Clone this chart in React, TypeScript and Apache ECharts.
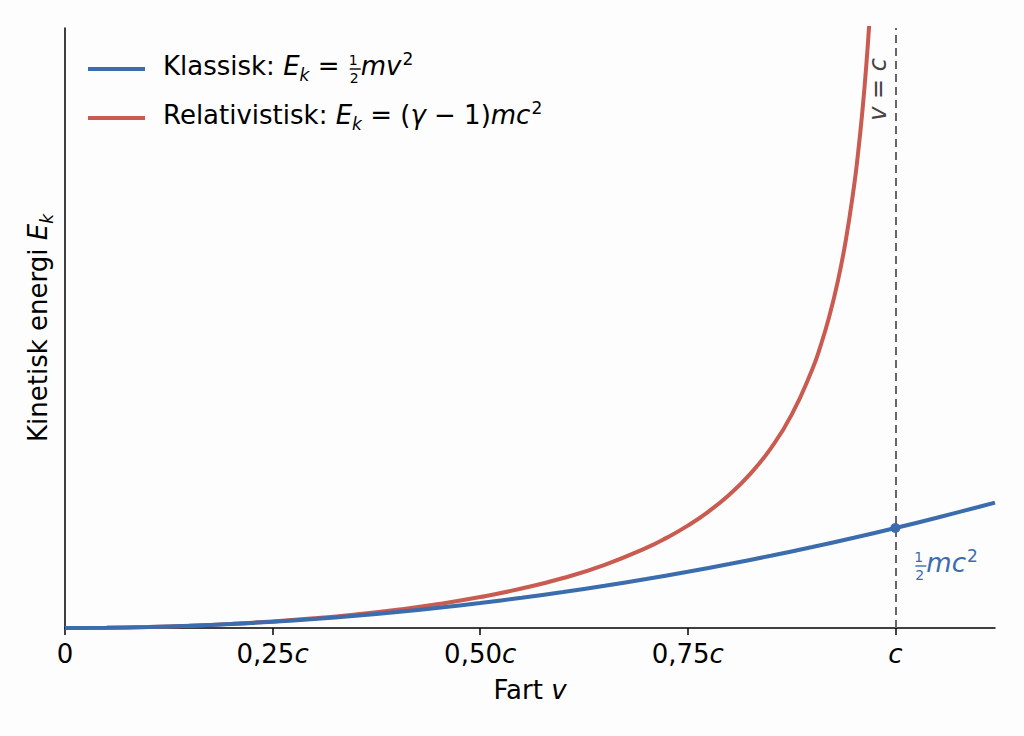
import React, { useEffect, useRef } from 'react'
import * as echarts from 'echarts'

// speeds as fraction of c, energies in units of mc^2
const classicSpeeds = [0, 0.05, 0.1, 0.15, 0.2, 0.25, 0.3, 0.35, 0.4, 0.45, 0.5, 0.55, 0.6, 0.65, 0.7, 0.75, 0.8, 0.85, 0.9, 0.95, 1.0, 1.05, 1.1, 1.12]
const classicEnergy = [0, 0.00125, 0.005, 0.01125, 0.02, 0.03125, 0.045, 0.06125, 0.08, 0.10125, 0.125, 0.15125, 0.18, 0.21125, 0.245, 0.28125, 0.32, 0.36125, 0.405, 0.45125, 0.5, 0.55125, 0.605, 0.6272]

const relSpeeds = [0, 0.05, 0.1, 0.15, 0.2, 0.25, 0.3, 0.35, 0.4, 0.45, 0.5, 0.55, 0.6, 0.65, 0.7, 0.725, 0.75, 0.775, 0.8, 0.825, 0.85, 0.875, 0.9, 0.91, 0.92, 0.93, 0.94, 0.95, 0.955, 0.96, 0.965, 0.97]
const relEnergy = [0, 0.00125, 0.00504, 0.01144, 0.02062, 0.0328, 0.04828, 0.06752, 0.09109, 0.11979, 0.1547, 0.19737, 0.25, 0.3159, 0.40028, 0.45191, 0.51186, 0.58238, 0.66667, 0.7695, 0.89832, 1.06559, 1.29416, 1.41192, 1.55155, 1.72065, 1.93105, 2.20256, 2.37147, 2.57143, 2.81317, 3.11345]

const xTicks = [0, 0.25, 0.5, 0.75, 1]
const xTickLabels = ['0', '0,25{i|c}', '0,50{i|c}', '0,75{i|c}', '{i|c}']

const BLUE = '#3a6cae'
const RED = '#c95b50'
const FONT = 'DejaVu Sans'
const FS = 26
const LH = 42

// rich styles for the little math formulas (line box LH tall, main text centred ~18px from its top)
const richMath = (color: string) => {
  const base = { color, fontFamily: FONT, lineHeight: LH }
  return {
    t: { ...base, fontSize: FS, verticalAlign: 'top', padding: [5, 0, 0, 0] },
    i: { ...base, fontSize: FS, fontStyle: 'italic', verticalAlign: 'top', padding: [5, 0, 0, 0] },
    sup: { ...base, fontSize: 17, verticalAlign: 'top', padding: [2, 0, 0, 1] },
    sub: { ...base, fontSize: 17, fontStyle: 'italic', verticalAlign: 'bottom', padding: [0, 0, 7, 0] },
    n: { ...base, fontSize: 14, verticalAlign: 'top', width: 0, padding: [5, 0, 0, 1] },
    d: { ...base, fontSize: 14, verticalAlign: 'bottom', width: 0, padding: [0, 0, 5, 1] },
    bar: { ...base, fontSize: 2, width: 11, height: 1.4, backgroundColor: color, verticalAlign: 'middle' },
  }
}

function App() {
  const chartRef = useRef<HTMLDivElement>(null)

  useEffect(() => {
    const chart = echarts.init(chartRef.current, null, { renderer: 'svg' })

    const options = {
      animation: false,
      backgroundColor: '#fdfdfd',
      textStyle: { fontFamily: FONT },
      grid: { left: 65, right: 29, top: 28, bottom: 108 },
      legend: {
        orient: 'vertical',
        left: 88,
        top: 48,
        padding: 0,
        itemGap: 7,
        icon: 'rect',
        itemWidth: 57,
        itemHeight: 4,
        data: ['Klassisk', 'Relativistisk'],
        formatter: (name: string) =>
          name === 'Klassisk'
            ? '{p|}{t|Klassisk: }{i|E}{sub|k}{t| = }{n|1}{d|2}{bar| }{i|mv}{sup|2}'
            : '{p|}{t|Relativistisk: }{i|E}{sub|k}{t| = (}{i|γ}{t| − 1)}{i|mc}{sup|2}',
        textStyle: {
          fontSize: FS,
          lineHeight: LH,
          rich: { ...richMath('#000'), p: { width: 13, lineHeight: LH } },
        },
      },
      xAxis: {
        type: 'value',
        min: 0,
        max: 1.12,
        name: '{t|Fart }{i|v}',
        nameLocation: 'middle',
        nameGap: 43,
        nameTextStyle: { fontSize: FS, color: '#000', lineHeight: LH, rich: richMath('#000') },
        axisLine: { lineStyle: { color: '#000', width: 1.5 } },
        axisTick: { show: true, length: 7, lineStyle: { color: '#000', width: 1.5 }, customValues: xTicks },
        axisLabel: {
          customValues: xTicks,
          margin: 13,
          fontSize: FS,
          color: '#000',
          formatter: (v: number) => {
            const idx = xTicks.findIndex((t) => Math.abs(t - v) < 1e-6)
            return idx >= 0 ? xTickLabels[idx] : ''
          },
          rich: { i: { fontSize: FS, color: '#000', fontStyle: 'italic', fontFamily: FONT } },
        },
        splitLine: { show: false },
      },
      yAxis: {
        type: 'value',
        min: 0,
        max: 3,
        name: '{t|Kinetisk energi }{i|E}{sub|k}',
        nameLocation: 'middle',
        nameRotate: 90,
        nameGap: 3,
        nameTextStyle: { fontSize: FS, color: '#000', lineHeight: LH, rich: richMath('#000') },
        axisLine: { show: true, lineStyle: { color: '#000', width: 1.5 } },
        axisTick: { show: false },
        axisLabel: { show: false },
        splitLine: { show: false },
      },
      series: [
        {
          name: 'Klassisk',
          type: 'line',
          data: classicSpeeds.map((v, i) => [v, classicEnergy[i]]),
          smooth: true,
          showSymbol: false,
          color: BLUE,
          lineStyle: { color: BLUE, width: 4 },
          z: 3,
          markPoint: {
            symbol: 'circle',
            symbolSize: 10,
            itemStyle: { color: BLUE },
            data: [{ coord: [1, 0.5] }],
            label: {
              show: true,
              position: 'right',
              offset: [8, 38],
              lineHeight: LH,
              formatter: '{n|1}{d|2}{bar| }{i|mc}{sup|2}',
              rich: richMath(BLUE),
            },
          },
        },
        {
          name: 'Relativistisk',
          type: 'line',
          data: relSpeeds.map((v, i) => [v, relEnergy[i]]),
          smooth: true,
          showSymbol: false,
          color: RED,
          lineStyle: { color: RED, width: 4 },
          z: 2,
          markLine: {
            silent: true,
            symbol: 'none',
            lineStyle: { color: '#666', type: [8, 5], width: 2 },
            label: {
              show: true,
              position: 'insideEndTop',
              distance: 3,
              formatter: '{i|v}{t| = }{i|c}{gap| }',
              rich: {
                t: { fontSize: 24, color: '#444', fontFamily: FONT, lineHeight: 28, verticalAlign: 'middle' },
                i: { fontSize: 24, color: '#444', fontFamily: FONT, fontStyle: 'italic', lineHeight: 28, verticalAlign: 'middle' },
                gap: { fontSize: 2, width: 27 },
              },
            },
            data: [{ xAxis: 1 }],
          },
        },
      ],
    }

    chart.setOption(options)

    return () => {
      chart.dispose()
    }
  }, [])

  return (
    <div
      ref={chartRef}
      style={{ position: 'fixed', left: 0, top: 0, width: '1024px', height: '736px' }}
    ></div>
  )
}

export default App
